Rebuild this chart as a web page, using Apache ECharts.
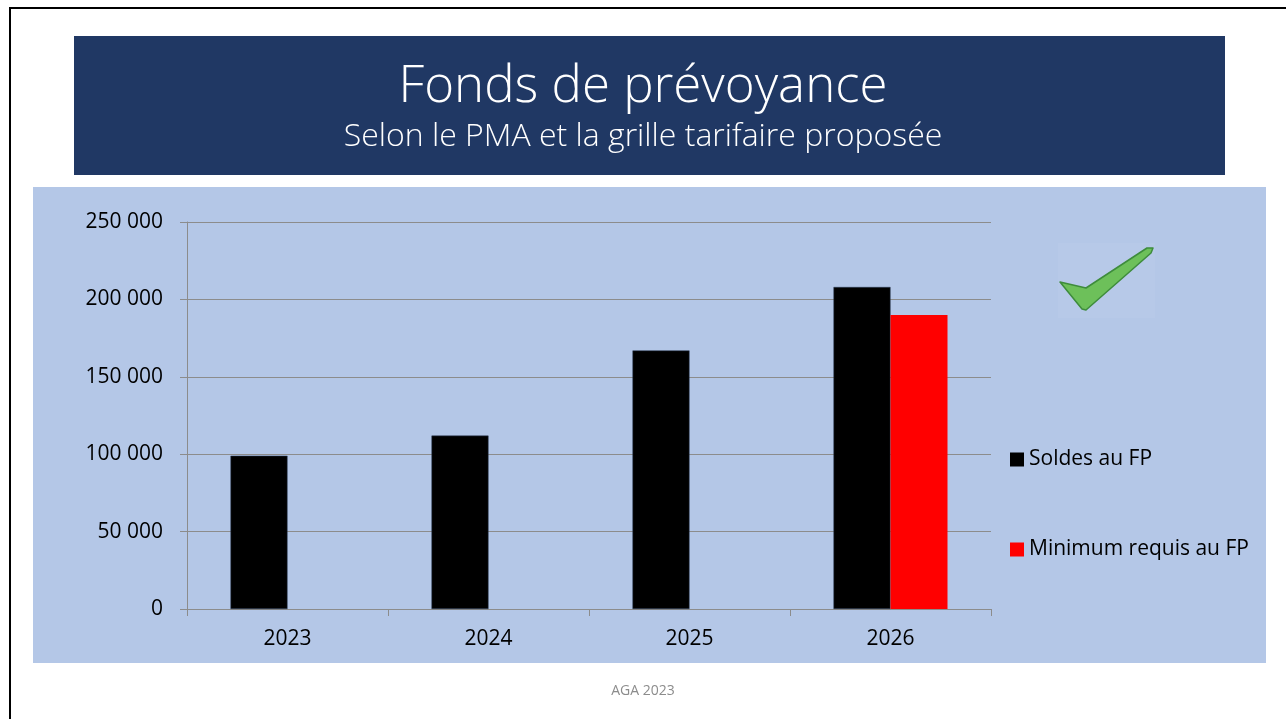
<!DOCTYPE html>
<html>
<head>
<meta charset="utf-8">
<script src="https://cdn.jsdelivr.net/npm/echarts@6/dist/echarts.min.js"></script>
<style>
  html, body { margin: 0; padding: 0; background: #fff; }
  #chart { width: 1286px; height: 719px; }
</style>
</head>
<body>
<div id="chart"></div>
<script>
const years = ["2023", "2024", "2025", "2026"];
const soldes = [99000, 112000, 167000, 208000];
const minimum = [null, null, null, 190000];
const yTicks = [0, 50000, 100000, 150000, 200000, 250000];

const chartDom = document.getElementById("chart");
const myChart = echarts.init(chartDom);

const font = "'Open Sans', 'Noto Sans', sans-serif";
const gridColor = "#8c8c8c";

const option = {
  animation: false,
  textStyle: { fontFamily: font },
  title: [
    {
      text: "Fonds de prévoyance",
      left: "center",
      top: 57,
      textStyle: { color: "#fff", fontSize: 51, fontWeight: 300, fontFamily: font }
    },
    {
      text: "Selon le PMA et la grille tarifaire proposée",
      left: "center",
      top: 116,
      textStyle: { color: "#fff", fontSize: 32, fontWeight: 300, fontFamily: font }
    }
  ],
  graphic: [
    // slide border
    { type: "rect", shape: { x: 9, y: 7, width: 1280, height: 2 }, style: { fill: "#000" }, z: -5 },
    { type: "rect", shape: { x: 9, y: 7, width: 2, height: 715 }, style: { fill: "#000" }, z: -5 },
    // title banner
    { type: "rect", shape: { x: 74, y: 36, width: 1151, height: 139 }, style: { fill: "#203864" }, z: -5 },
    // chart background
    { type: "rect", shape: { x: 33, y: 187, width: 1233, height: 476 }, style: { fill: "#B4C7E7" }, z: -5 },
    // check mark
    { type: "rect", shape: { x: 1058, y: 243, width: 97, height: 75 }, style: { fill: "#B7C9E8" }, z: -4 },
    {
      type: "polygon",
      shape: {
        points: [[1060, 282], [1086, 288], [1147, 248], [1153, 248], [1151, 253], [1086, 310], [1082, 309]]
      },
      style: { fill: "#6DC05A", stroke: "#3E8C3C", lineWidth: 1.5, lineJoin: "round" },
      z: 10
    },
    // footer
    {
      type: "text",
      left: "center",
      top: 684,
      style: { text: "AGA 2023", fill: "#8c8c8c", fontSize: 14, fontFamily: font }
    }
  ],
  legend: {
    orient: "vertical",
    left: 1010,
    top: 449,
    padding: 0,
    itemGap: 69,
    itemWidth: 14,
    itemHeight: 14,
    icon: "rect",
    itemStyle: { borderWidth: 0 },
    textStyle: { color: "#000", fontSize: 21, fontFamily: font },
    data: ["Soldes au FP", "Minimum requis au FP"]
  },
  grid: { left: 187, right: 295, top: 222, bottom: 110 },
  xAxis: {
    type: "category",
    data: years,
    axisLine: { show: true, lineStyle: { color: gridColor, width: 1 } },
    axisTick: { show: true, length: 7, lineStyle: { color: gridColor } },
    axisLabel: { color: "#000", fontSize: 21, margin: 20, fontFamily: font }
  },
  yAxis: {
    type: "value",
    min: 0,
    max: yTicks[yTicks.length - 1],
    interval: 50000,
    axisLine: { show: true, lineStyle: { color: gridColor, width: 1 } },
    axisTick: { show: true, length: 7, lineStyle: { color: gridColor } },
    splitLine: { show: true, lineStyle: { color: gridColor, width: 1 } },
    axisLabel: {
      color: "#000",
      fontSize: 21,
      margin: 24,
      fontFamily: font,
      formatter: (v) => String(v).replace(/\B(?=(\d{3})+(?!\d))/g, " ")
    }
  },
  series: [
    {
      name: "Soldes au FP",
      type: "bar",
      data: soldes,
      barWidth: 57,
      barGap: "0%",
      itemStyle: { color: "#000", borderColor: "#2b3a55", borderWidth: 0.5 }
    },
    {
      name: "Minimum requis au FP",
      type: "bar",
      data: minimum,
      barWidth: 57,
      barGap: "0%",
      itemStyle: { color: "#FF0000" }
    }
  ]
};

myChart.setOption(option);
</script>
</body>
</html>
